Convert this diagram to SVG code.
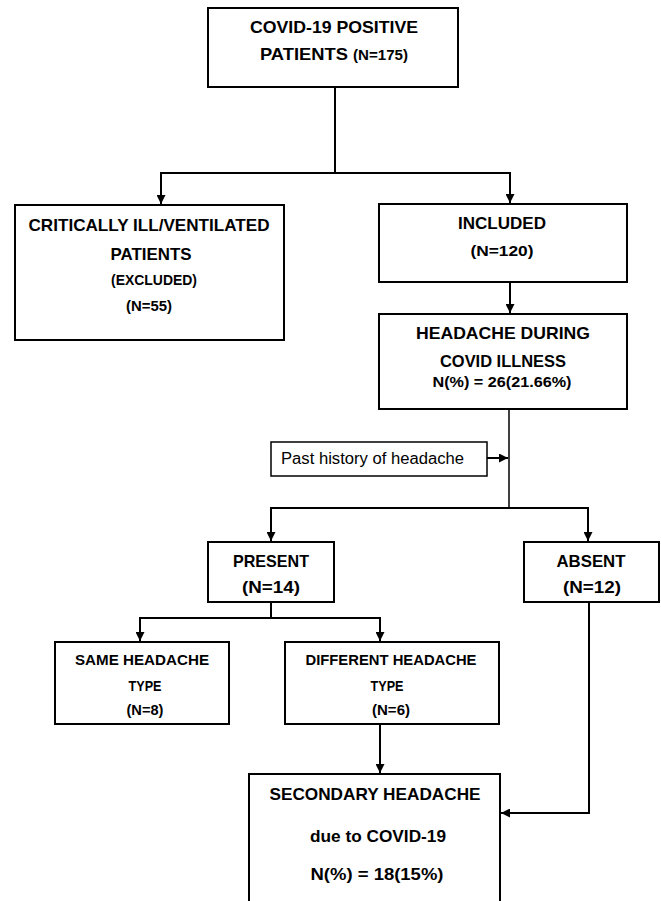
<svg xmlns="http://www.w3.org/2000/svg" width="661" height="901" viewBox="0 0 661 901">
<defs>
<style>
.box{fill:#fff;stroke:#000;stroke-width:2}
.t{font-family:"Liberation Sans",Arial,sans-serif;font-weight:bold;fill:#000;text-anchor:middle}
.n{font-family:"Liberation Sans",Arial,sans-serif;fill:#000}
.c{fill:none;stroke:#000;stroke-width:2}
.thin{fill:none;stroke:#000;stroke-width:1.5}
</style>
<marker id="ah" viewBox="0 0 10 10" refX="10" refY="5" markerWidth="4.5" markerHeight="4.5" orient="auto" markerUnits="strokeWidth">
<path d="M0,0 L10,5 L0,10 z" fill="#000"/>
</marker>
</defs>
<rect width="661" height="901" fill="#fff"/>
<g id="connectors">
<polyline class="c" points="335,87 335,173"/>
<polyline class="c" points="335,173 161,173 161,204" marker-end="url(#ah)"/>
<polyline class="c" points="335,173 510,173 510,203" marker-end="url(#ah)"/>
<polyline class="c" points="510,282 510,313" marker-end="url(#ah)"/>
<polyline class="thin" points="509,409 509,508"/>
<polyline class="c" points="487,458 508,458" marker-end="url(#ah)"/>
<polyline class="c" points="509,508 271,508 271,541" marker-end="url(#ah)"/>
<polyline class="c" points="509,508 588,508 588,541" marker-end="url(#ah)"/>
<polyline class="c" points="271,602 271,618"/>
<polyline class="c" points="271,618 140,618 140,641" marker-end="url(#ah)"/>
<polyline class="c" points="271,618 380,618 380,641" marker-end="url(#ah)"/>
<polyline class="c" points="380,724 380,773" marker-end="url(#ah)"/>
<polyline class="c" points="589,602 589,813 501,813" marker-end="url(#ah)"/>
</g>
<g id="n-covid">
<rect class="box" x="208" y="8" width="250" height="79"/>
<text class="t" x="334" y="33" font-size="17" textLength="168" lengthAdjust="spacingAndGlyphs">COVID-19 POSITIVE</text>
<text class="t" x="334" y="60" font-size="17" textLength="148" lengthAdjust="spacingAndGlyphs">PATIENTS <tspan font-size="14">(N=175)</tspan></text>
</g>
<g id="n-critical">
<rect class="box" x="15" y="205" width="269" height="135"/>
<text class="t" x="149" y="231" font-size="17" textLength="241" lengthAdjust="spacingAndGlyphs">CRITICALLY ILL/VENTILATED</text>
<text class="t" x="151" y="260" font-size="17" textLength="81" lengthAdjust="spacingAndGlyphs">PATIENTS</text>
<text class="t" x="154" y="285" font-size="14" textLength="86" lengthAdjust="spacingAndGlyphs">(EXCLUDED)</text>
<text class="t" x="149" y="311" font-size="14" textLength="46" lengthAdjust="spacingAndGlyphs">(N=55)</text>
</g>
<g id="n-included">
<rect class="box" x="379" y="204" width="248" height="78"/>
<text class="t" x="502" y="229" font-size="17" textLength="88" lengthAdjust="spacingAndGlyphs">INCLUDED</text>
<text class="t" x="502" y="256" font-size="14" textLength="63" lengthAdjust="spacingAndGlyphs">(N=120)</text>
</g>
<g id="n-headache">
<rect class="box" x="379" y="314" width="248" height="95"/>
<text class="t" x="503" y="339" font-size="17" textLength="174" lengthAdjust="spacingAndGlyphs">HEADACHE DURING</text>
<text class="t" x="503" y="367" font-size="16" textLength="126" lengthAdjust="spacingAndGlyphs">COVID ILLNESS</text>
<text class="t" x="502" y="387" font-size="14" textLength="139" lengthAdjust="spacingAndGlyphs">N(%) = 26(21.66%)</text>
</g>
<g id="n-past">
<rect x="271" y="442" width="216" height="34" fill="#fff" stroke="#000" stroke-width="1.5"/>
<text class="n" x="281" y="464" font-size="16" textLength="183" lengthAdjust="spacingAndGlyphs">Past history of headache</text>
</g>
<g id="n-present">
<rect class="box" x="208" y="542" width="126" height="60"/>
<text class="t" x="271" y="567" font-size="17" textLength="76" lengthAdjust="spacingAndGlyphs">PRESENT</text>
<text class="t" x="271" y="593" font-size="17" textLength="58" lengthAdjust="spacingAndGlyphs">(N=14)</text>
</g>
<g id="n-absent">
<rect class="box" x="524" y="542" width="135" height="60"/>
<text class="t" x="591" y="567" font-size="17" textLength="69" lengthAdjust="spacingAndGlyphs">ABSENT</text>
<text class="t" x="592" y="593" font-size="17" textLength="58" lengthAdjust="spacingAndGlyphs">(N=12)</text>
</g>
<g id="n-same">
<rect class="box" x="55" y="642" width="174" height="82"/>
<text class="t" x="142" y="665" font-size="15" textLength="134" lengthAdjust="spacingAndGlyphs">SAME HEADACHE</text>
<text class="t" x="145" y="691" font-size="15" textLength="33" lengthAdjust="spacingAndGlyphs">TYPE</text>
<text class="t" x="145" y="715" font-size="15" textLength="37" lengthAdjust="spacingAndGlyphs">(N=8)</text>
</g>
<g id="n-different">
<rect class="box" x="285" y="642" width="214" height="82"/>
<text class="t" x="391" y="665" font-size="15" textLength="171" lengthAdjust="spacingAndGlyphs">DIFFERENT HEADACHE</text>
<text class="t" x="387" y="691" font-size="15" textLength="33" lengthAdjust="spacingAndGlyphs">TYPE</text>
<text class="t" x="391" y="715" font-size="15" textLength="38" lengthAdjust="spacingAndGlyphs">(N=6)</text>
</g>
<g id="n-secondary">
<rect class="box" x="249" y="774" width="251" height="140"/>
<text class="t" x="375" y="800" font-size="17" textLength="211" lengthAdjust="spacingAndGlyphs">SECONDARY HEADACHE</text>
<text class="t" x="378" y="842" font-size="17" textLength="136" lengthAdjust="spacingAndGlyphs">due to COVID-19</text>
<text class="t" x="377" y="880" font-size="17" textLength="133" lengthAdjust="spacingAndGlyphs">N(%) = 18(15%)</text>
</g>
</svg>
